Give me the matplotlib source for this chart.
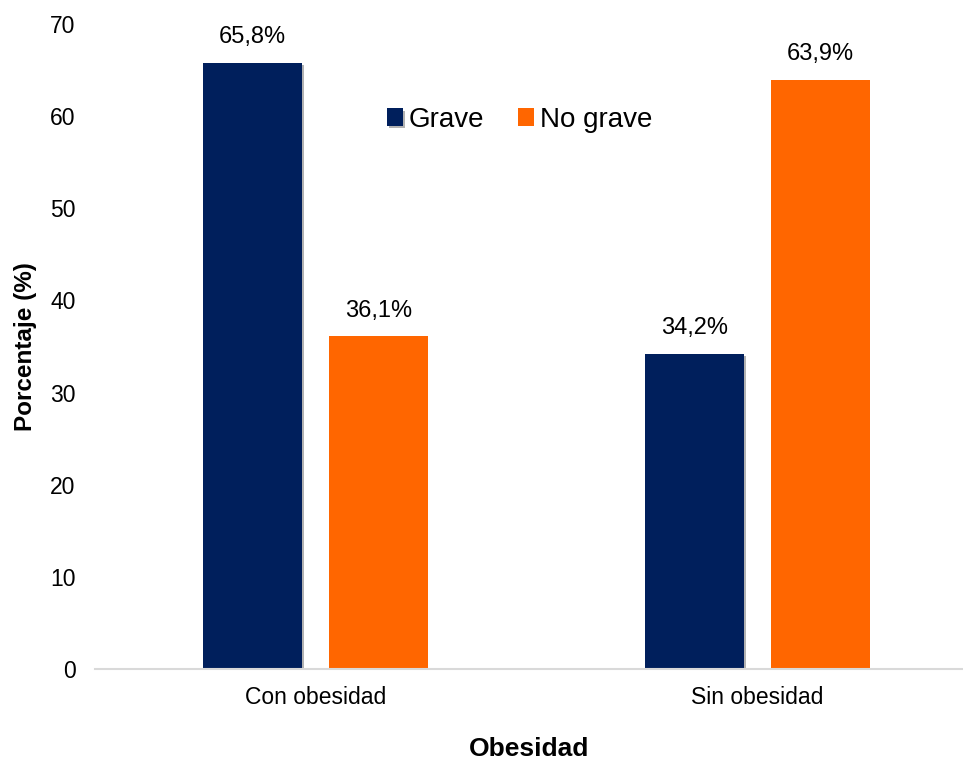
import matplotlib.pyplot as plt
import matplotlib.patheffects as pe
import numpy as np

plt.rcParams['font.family'] = ['Liberation Sans', 'DejaVu Sans']

categories = ['Con obesidad', 'Sin obesidad']
grave = [65.8, 34.2]
no_grave = [36.1, 63.9]
series = ['Grave', 'No grave']
colors = ['#001f5c', '#ff6600']

fig = plt.figure(figsize=(9.63, 7.62), dpi=100)
ax = fig.add_axes([95 / 963, 93 / 762, 868 / 963, 645 / 762])

x = np.arange(len(categories))
w = 0.224
off = 0.1425
b1 = ax.bar(x - off, grave, w, color=colors[0], label=series[0])
b2 = ax.bar(x + off, no_grave, w, color=colors[1], label=series[1])

# faint shadow on the dark bars
for p in b1:
    p.set_path_effects([pe.SimplePatchShadow(offset=(1.5, -1.5), shadow_rgbFace='k', alpha=0.3), pe.Normal()])

for bars, vals in ((b1, grave), (b2, no_grave)):
    for p, v in zip(bars, vals):
        ax.text(p.get_x() + p.get_width() / 2, v + 1.6, f'{v:.1f}%'.replace('.', ','),
                ha='center', va='bottom', fontsize=17)

ax.set_xlim(-0.498, 1.465)
ax.set_ylim(0, 70)
ax.set_yticks(range(0, 71, 10))
ax.set_xticks(x)
ax.set_xticklabels(categories)
ax.tick_params(axis='both', length=0, labelsize=16.5)
ax.tick_params(axis='y', pad=14)
ax.tick_params(axis='x', pad=12)
for s in ['top', 'right', 'left']:
    ax.spines[s].set_visible(False)
ax.spines['bottom'].set_color('#d9d9d9')
ax.spines['bottom'].set_linewidth(1.5)

ax.set_ylabel('Porcentaje (%)', fontsize=17.5, fontweight='bold')
ax.yaxis.set_label_coords(-58 / 868, 0.5)
ax.set_xlabel('Obesidad', fontsize=19, fontweight='bold')
ax.xaxis.set_label_coords(0.5, -68 / 645)

ax.legend(loc='upper center', bbox_to_anchor=(0.489, 0.91), ncol=2, frameon=False,
          fontsize=20, handlelength=0.6, handleheight=0.6, handletextpad=0.2, columnspacing=1.2)

fig.savefig('out.png', dpi=100)
